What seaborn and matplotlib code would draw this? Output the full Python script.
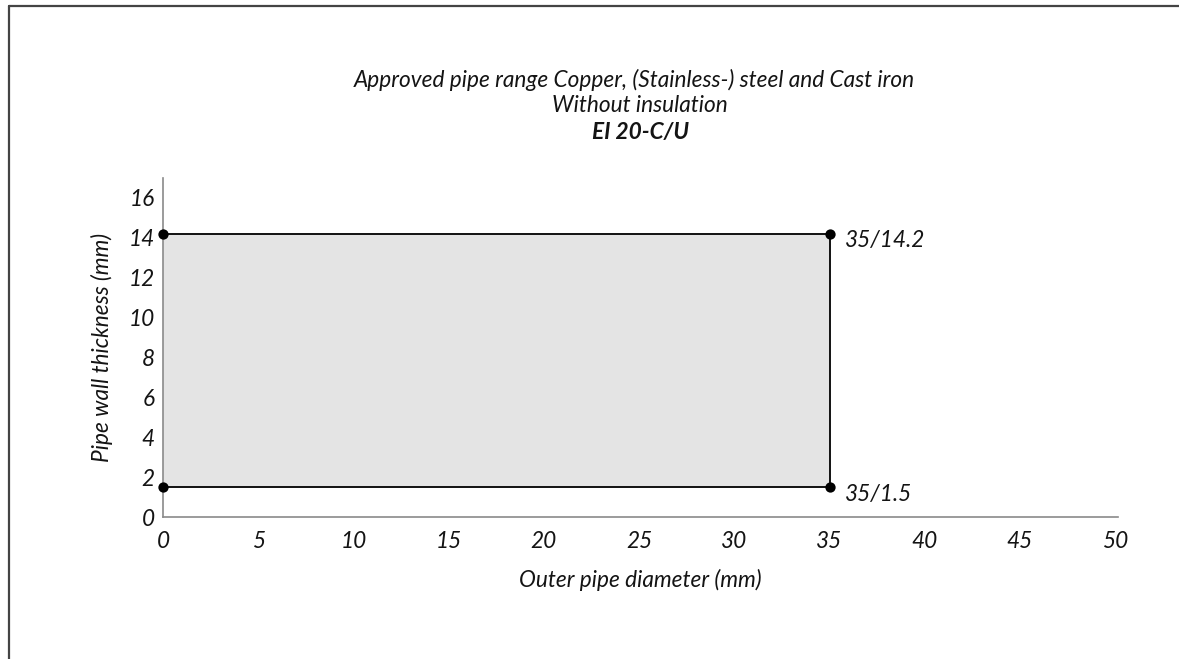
import matplotlib
matplotlib.use("Agg")
import matplotlib.pyplot as plt
import seaborn as sns
import pandas as pd
from matplotlib.lines import Line2D

# ---- data ----
outer_diameter = [0, 35, 35, 0]          # mm, boundary path
wall_thickness = [14.2, 14.2, 1.5, 1.5]  # mm, boundary path
corner_labels = ["", "35/14.2", "35/1.5", ""]
x_ticks = [0, 5, 10, 15, 20, 25, 30, 35, 40, 45, 50]
y_ticks = [0, 2, 4, 6, 8, 10, 12, 14, 16]
title_lines = ["Approved pipe range Copper, (Stainless-) steel and Cast iron",
               "Without insulation", "EI 20-C/U"]
x_label = "Outer pipe diameter (mm)"
y_label = "Pipe wall thickness (mm)"

df = pd.DataFrame({"d": outer_diameter, "t": wall_thickness, "lab": corner_labels})

sns.set_theme(style="white")
plt.rcParams["font.family"] = ["Lato", "DejaVu Sans"]

FS = 16.3
TXT = "#141414"

fig = plt.figure(figsize=(11.79, 6.59), dpi=100)
W, H = 1179, 659
ax = fig.add_axes([163 / W, (H - 517) / H, 955 / W, (517 - 178) / H])

# fill region
ax.fill_between([min(outer_diameter), max(outer_diameter)],
                min(wall_thickness), max(wall_thickness),
                color="#e4e4e4", lw=0, zorder=1)
# boundary lines
sns.lineplot(data=df, x="d", y="t", sort=False, estimator=None,
             color="#111111", lw=1.4, ax=ax, zorder=3)
# corner points
sns.scatterplot(data=df, x="d", y="t", color="black", s=55,
                edgecolor="black", linewidth=0, ax=ax, zorder=4, clip_on=False)
for _, r in df.iterrows():
    if r["lab"]:
        ax.annotate(r["lab"], (r["d"], r["t"]), xytext=(11, -5),
                    textcoords="offset points", ha="left", va="center",
                    fontsize=FS, style="italic", color=TXT)

ax.set_xlim(0, 50.15)
ax.set_ylim(0, 17)
ax.set_xticks(x_ticks)
ax.set_yticks(y_ticks)
ax.tick_params(length=0, labelsize=FS, colors=TXT)
ax.tick_params(axis="x", pad=10)
ax.tick_params(axis="y", pad=6)
for lab in ax.get_xticklabels() + ax.get_yticklabels():
    lab.set_fontstyle("italic")
for s in ["top", "right"]:
    ax.spines[s].set_visible(False)
for s in ["left", "bottom"]:
    ax.spines[s].set_color("#8a8a8a")
    ax.spines[s].set_linewidth(1.2)
ax.set_xlabel(x_label, fontsize=FS, style="italic", color=TXT, labelpad=12)
ax.set_ylabel(y_label, fontsize=FS, style="italic", color=TXT, labelpad=11)
ax.grid(False)

# titles
fig.text(634 / W, 1 - 80 / H, title_lines[0], ha="center", va="center",
         fontsize=FS, style="italic", color=TXT)
fig.text(640 / W, 1 - 105 / H, title_lines[1], ha="center", va="center",
         fontsize=FS, style="italic", color=TXT)
fig.text(640 / W, 1 - 132 / H, title_lines[2], ha="center", va="center",
         fontsize=FS, style="italic", weight="bold", color=TXT)

# page frame (left and top)
fig.add_artist(Line2D([9.5 / W, 9.5 / W], [0, 1 - 5.5 / H], color="#444444", lw=1.6,
                      transform=fig.transFigure))
fig.add_artist(Line2D([9.5 / W, 1], [1 - 5.5 / H, 1 - 5.5 / H], color="#444444", lw=1.6,
                      transform=fig.transFigure))

fig.savefig("out.png", dpi=100)
